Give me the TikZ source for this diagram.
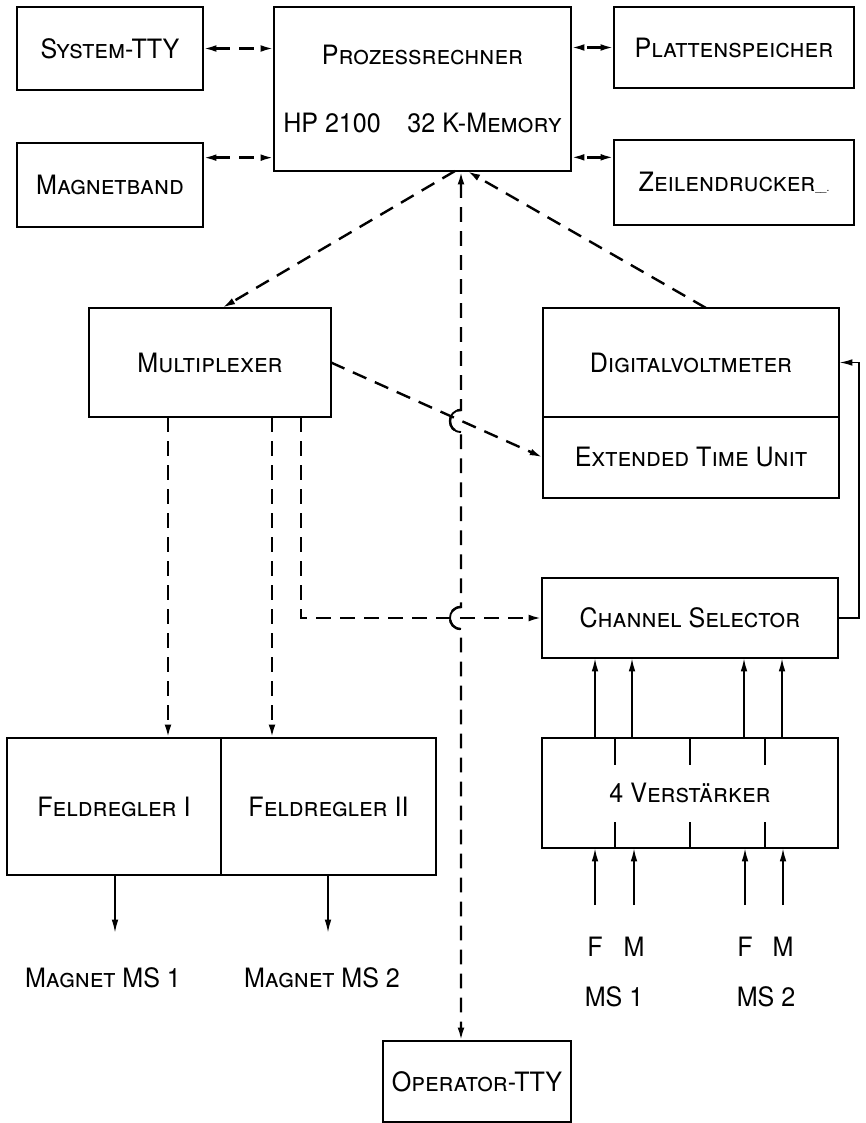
\documentclass[tikz,border=0pt]{standalone}
\usepackage{fontspec}
\setmainfont{TeX Gyre Heros}[FakeStretch=0.94]
\usetikzlibrary{arrows.meta,calc}

\tikzset{
  box/.style={draw, line width=2.2pt, inner sep=0pt, outer sep=0pt, align=center,
    font=\fontsize{20}{23}\selectfont\scshape},
  lbl/.style={inner sep=0pt, font=\fontsize{20}{23}\selectfont\scshape},
  dline/.style={line width=1.8pt, dash pattern=on 11pt off 7pt},
  sline/.style={line width=1.4pt},
  tick/.style={line width=1.8pt},
  tip/.style={-{Latex[length=10pt,width=5pt]}},
  tips/.style={{Latex[length=10pt,width=5pt]}-{Latex[length=10pt,width=5pt]}},
}

\begin{document}
\begin{tikzpicture}[x=0.75pt,y=-0.75pt]
\useasboundingbox (0,0) rectangle (866,1123);

%% Rechner mit Peripherie

% Boxes
\node[box, minimum width=139.5pt, minimum height=62.25pt] (systty) at (110,48.5) {System-TTY};
\node[box, minimum width=139.5pt, minimum height=63pt] (magband) at (110,185) {Magnetband};
\node[box, minimum width=222.75pt, minimum height=123pt] (proz) at (422.5,89)
  {Prozessrechner\\[28pt]HP 2100\quad 32 K-Memory};
\node[box, minimum width=180pt, minimum height=60.75pt] (platten) at (734,47.5) {Plattenspeicher};
\node[box, minimum width=180pt, minimum height=63.75pt] (zeilen) at (734,182.5)
  {Zeilendrucker{\footnotesize\_\_.}};

% Peripherie-Verbindungen
\draw[dline,tips] (systty.east) -- (systty.east -| proz.west);
\draw[dline,tips] ([yshift=-11pt]magband.north east) -- ([yshift=-11pt]magband.north east -| proz.west);
\draw[dline,tips] (platten.west) -- (platten.west -| proz.east);
\draw[dline,tips] ([yshift=-13pt]zeilen.north west) -- ([yshift=-13pt]zeilen.north west -| proz.east);

%% Messteil

\node[box, minimum width=181.5pt, minimum height=81.75pt] (mux) at (210,362.5) {Multiplexer};
\node[box, minimum width=222pt, minimum height=81.75pt] (dvm) at (691,362.5) {Digitalvoltmeter};
\node[box, minimum width=222pt, minimum height=60.75pt, anchor=north] (etu) at (dvm.south) {Extended Time Unit};
\node[box, minimum width=222pt, minimum height=60pt] (cs) at (690,618) {Channel Selector};
\node[box, minimum width=222pt, minimum height=82.5pt] (verst) at (690,793) {4 Verstärker};

% Feldregler
\node[box, minimum width=160.5pt, minimum height=102.75pt] (feld1) at (114,806.5) {Feldregler I};
\node[box, minimum width=161.25pt, minimum height=102.75pt, anchor=west] (feld2) at (feld1.east) {Feldregler II};

% Operator
\node[box, minimum width=141pt, minimum height=60.75pt] (optty) at (477,1081.5) {Operator-TTY};

% Rechner-Bus
\coordinate (pl) at (455,171);
\coordinate (pm) at (461,171);
\coordinate (pr) at (467,171);
\draw[dline,tip] (pl) -- ([xshift=9pt]mux.north);
\draw[dline,tip] ([xshift=11.25pt]dvm.north) -- (pr);

% Operator line with hops
\draw[dline,tips] (pm) -- (461,410) .. controls +(-14.7,0) and +(-14.7,0) .. (461,432)
  -- (461,607) .. controls +(-14.7,0) and +(-14.7,0) .. (461,629) -- (optty.north -| pm);
\draw[sline] (461,410) .. controls +(-14.7,0) and +(-14.7,0) .. (461,432);
\draw[sline] (461,607) .. controls +(-14.7,0) and +(-14.7,0) .. (461,629);

% Multiplexer outputs
\draw[dline,tip] (mux.east) -- (etu.west);
\draw[dline,tip] (mux.south -| 168,0) -- (feld1.north -| 168,0);
\draw[dline,tip] (mux.south -| 272,0) -- (feld2.north -| 272,0);
\draw[dline,tip] (mux.south -| 301,0) |- (cs.west);

% Rueckfuehrung zum DVM
\draw[sline,tip] (cs.east) -- ++(21,0) |- (dvm.east);

% Verstaerker
\foreach \x in {595,632,744,782}
  \draw[sline,tip] (verst.north -| \x,0) -- (cs.south -| \x,0);
\foreach \x in {615,690,765} {
  \draw[tick] (verst.north -| \x,0) -- ++(0,27);
  \draw[tick] (verst.south -| \x,0) -- ++(0,-26);
}

% Eingaenge
\node[lbl] (fa) at (595,947) {F};
\node[lbl] (ma) at (634,947) {M};
\node[lbl] (fb) at (745,947) {F};
\node[lbl] (mb) at (783,947) {M};
\node[lbl] (msa) at (614,997) {MS 1};
\node[lbl] (msb) at (766,997) {MS 2};
\foreach \n in {fa,ma,fb,mb} {
  \coordinate (in\n) at ($(\n.north)+(0,-32)$);
  \draw[sline,tip] (in\n) -- (in\n |- verst.south);
}

% Magnet-Ausgaenge
\node[lbl] (mag1) at (103,978) {Magnet MS 1};
\node[lbl] (mag2) at (322,978) {Magnet MS 2};
\coordinate (out1) at (115,933);
\coordinate (out2) at (328,933);
\draw[sline,tip] (feld1.south -| out1) -- (out1);
\draw[sline,tip] (feld2.south -| out2) -- (out2);

\end{tikzpicture}
\end{document}
